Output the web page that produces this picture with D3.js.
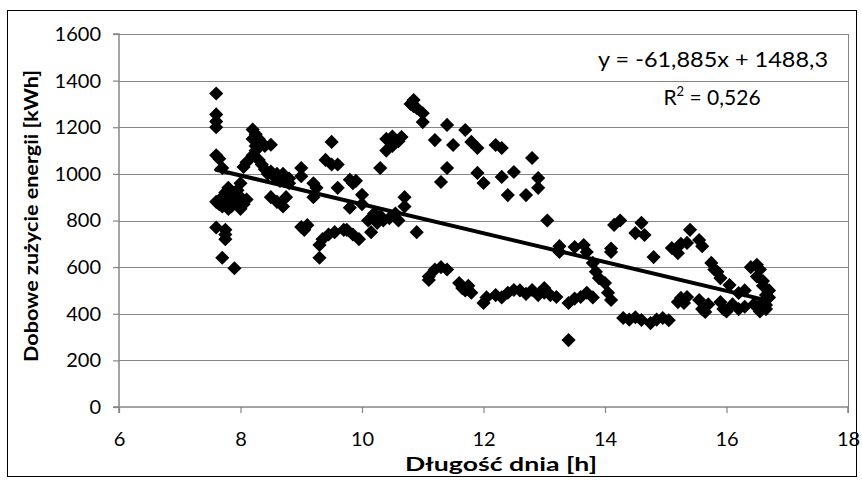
<!DOCTYPE html>
<html><head><meta charset="utf-8">
<script src="https://cdn.jsdelivr.net/npm/d3@7"></script>
<style>
html,body{margin:0;padding:0;background:#fff;}
text{font-family:Lato,"Open Sans",sans-serif;}
</style></head>
<body>
<svg id="c" width="862" height="482"></svg>
<script>
// Day length [h]
const dayLength = [
7.6,7.6,7.6,7.6,7.6,7.6,7.6,
7.65,7.65,7.7,7.7,7.7,7.7,
7.75,7.75,7.75,7.75,7.75,
7.8,7.8,7.8,7.85,7.9,7.9,7.9,
7.95,7.95,8.0,8.0,8.0,8.0,
8.05,8.05,8.1,8.1,
8.2,8.2,8.2,8.25,8.25,8.25,8.3,8.3,8.35,8.35,8.4,8.4,8.45,8.5,8.5,8.5,8.55,8.6,8.6,8.65,8.7,8.7,8.75,8.8,8.8,
9.0,9.0,9.0,9.05,9.1,9.2,9.2,9.25,9.3,9.3,9.35,9.4,9.45,9.5,9.5,9.55,9.6,9.6,9.7,9.75,9.8,9.8,9.85,9.85,9.9,9.95,10.0,10.0,10.1,10.15,10.2,10.25,10.3,10.3,10.35,10.4,10.4,10.45,10.5,10.5,10.55,10.6,10.65,10.7,10.7,10.6,
10.8,10.85,10.9,10.85,11.0,11.0,10.9,11.2,11.3,11.4,11.4,11.5,11.7,11.8,11.9,11.9,12.0,12.2,12.3,12.3,12.4,12.5,12.7,12.8,12.9,12.9,13.05,
11.1,11.1,11.2,11.3,11.4,11.6,11.65,11.7,11.8,11.75,12.0,12.05,12.2,12.3,12.4,12.5,12.6,12.7,12.8,12.9,13.0,13.0,13.1,13.2,13.4,13.4,13.5,13.6,13.7,13.8,
13.25,13.25,13.5,13.65,13.7,13.8,13.85,13.9,14.0,14.05,14.1,14.1,14.1,14.15,14.25,14.5,14.6,14.65,14.8,14.3,14.4,14.5,14.6,14.75,14.85,14.95,15.05,
15.1,15.2,15.25,15.35,15.4,15.55,15.6,15.2,15.25,15.35,15.3,15.55,15.6,15.65,15.7,15.75,15.8,15.85,15.9,15.9,15.95,16.0,16.05,16.1,16.2,16.2,16.3,16.3,16.4,16.45,16.5,16.5,16.55,16.6,16.6,16.65,16.65,16.7,16.7,16.65,16.6,16.55
];
// Daily energy use [kWh]
const energy = [
1345,1255,1225,1200,1080,880,770,
1065,870,1025,900,640,860,
880,920,760,740,720,
850,900,940,860,595,880,920,
870,930,960,900,850,880,
1030,870,1050,890,
1190,1150,1080,1170,1120,1100,1150,1060,1130,1040,1120,1020,1000,1125,1010,900,990,1000,880,970,1000,860,900,980,960,
1025,990,772,760,780,960,900,940,640,695,720,1060,740,1137,1040,750,1040,940,760,760,975,855,740,960,970,720,910,870,800,750,830,790,1025,820,800,1150,1100,810,1120,1160,830,1140,1158,900,860,800,
1300,1317,1283,1290,1260,1222,750,1145,965,1025,1210,1124,1188,1137,1111,1004,961,1124,1111,987,909,1008,909,1068,982,940,800,
560,545,590,600,590,532,510,500,490,520,446,470,480,470,490,502,500,485,502,480,490,510,480,472,446,287,465,472,490,470,
690,665,686,695,665,618,580,553,532,490,459,680,665,781,800,746,790,738,643,382,375,385,373,360,375,382,372,
682,660,700,704,760,716,690,450,468,472,446,459,420,408,440,618,590,580,553,450,420,410,523,440,489,420,430,500,600,440,610,560,410,520,450,480,420,500,470,438,540,590
];
const xTicks = [6,8,10,12,14,16,18];
const yTicks = [0,200,400,600,800,1000,1200,1400,1600];
const slope = -61.885, intercept = 1488.3;
const eqText = "y = -61,885x + 1488,3";
const r2Value = "0,526";
const xTitle = "Długość dnia [h]";
const yTitle = "Dobowe zużycie energii [kWh]";

const svg = d3.select("#c");
const L=119, R=848, T=34, B=407;
const x = d3.scaleLinear().domain([6,18]).range([L,R]);
const y = d3.scaleLinear().domain([0,1600]).range([B,T]);
const grey = "#868686";

// outer border
svg.append("rect").attr("x",7.5).attr("y",10.5).attr("width",849).attr("height",466)
  .attr("fill","none").attr("stroke","#000").attr("stroke-width",1);

// gridlines
svg.append("g").selectAll("line").data(yTicks.filter(v=>v>0)).join("line")
  .attr("x1",L).attr("x2",R).attr("y1",d=>Math.round(y(d))+0.5).attr("y2",d=>Math.round(y(d))+0.5)
  .attr("stroke",grey).attr("stroke-width",1);
// right border
svg.append("line").attr("x1",R+0.5).attr("x2",R+0.5).attr("y1",T).attr("y2",B).attr("stroke",grey);

// axes
const yAxis = d3.axisLeft(y).tickValues(yTicks).tickSize(6).tickPadding(12).tickFormat(d3.format("d"));
const gy = svg.append("g").attr("transform",`translate(${L},0)`).call(yAxis);
const xAxis = d3.axisBottom(x).tickValues(xTicks).tickSize(6).tickPadding(19).tickFormat(d3.format("d"));
const gx = svg.append("g").attr("transform",`translate(0,${B})`).call(xAxis);
[gx,gy].forEach(g=>{
  g.select(".domain").attr("stroke",grey).attr("stroke-width",1.5);
  g.selectAll(".tick line").attr("stroke",grey).attr("stroke-width",1.2);
  g.selectAll(".tick text").attr("font-family","Lato").attr("font-size",20).attr("fill","#000");
});
gy.select(".domain").attr("d",`M-6,${T}H0V${B}H-6`);
gx.select(".domain").attr("d",`M${L},6V0H${R}V6`);

// points
const pts = dayLength.map((d,i)=>({x:d,y:energy[i]}));
svg.append("g").selectAll("path").data(pts).join("path")
  .attr("d",d3.symbol(d3.symbolSquare,100))
  .attr("transform",d=>`translate(${x(d.x)},${y(d.y)}) rotate(45)`)
  .attr("fill","#000");

// trendline
const xmin = d3.min(dayLength), xmax = d3.max(dayLength);
svg.append("line").attr("x1",x(xmin)).attr("y1",y(slope*xmin+intercept))
  .attr("x2",x(xmax)).attr("y2",y(slope*xmax+intercept))
  .attr("stroke","#000").attr("stroke-width",4).attr("stroke-linecap","round");

// equation
svg.append("text").attr("x",713).attr("y",67).attr("text-anchor","middle")
  .attr("font-size",20.5).attr("textLength",230).attr("lengthAdjust","spacingAndGlyphs").text(eqText);
const r2 = svg.append("text").attr("x",712).attr("y",105).attr("text-anchor","middle").attr("font-size",21);
r2.append("tspan").text("R");
r2.append("tspan").attr("dy",-9).attr("font-size",13).text("2");
r2.append("tspan").attr("dy",9).text(" = "+r2Value);

// titles
svg.append("text").attr("x",501).attr("y",471).attr("text-anchor","middle")
  .attr("font-weight","bold").attr("font-size",18)
  .attr("textLength",192).attr("lengthAdjust","spacingAndGlyphs").text(xTitle);
svg.append("text").attr("transform","translate(38,216) rotate(-90)").attr("text-anchor","middle")
  .attr("font-weight","bold").attr("font-size",18.5)
  .attr("textLength",292).attr("lengthAdjust","spacingAndGlyphs").text(yTitle);
</script>
</body></html>
